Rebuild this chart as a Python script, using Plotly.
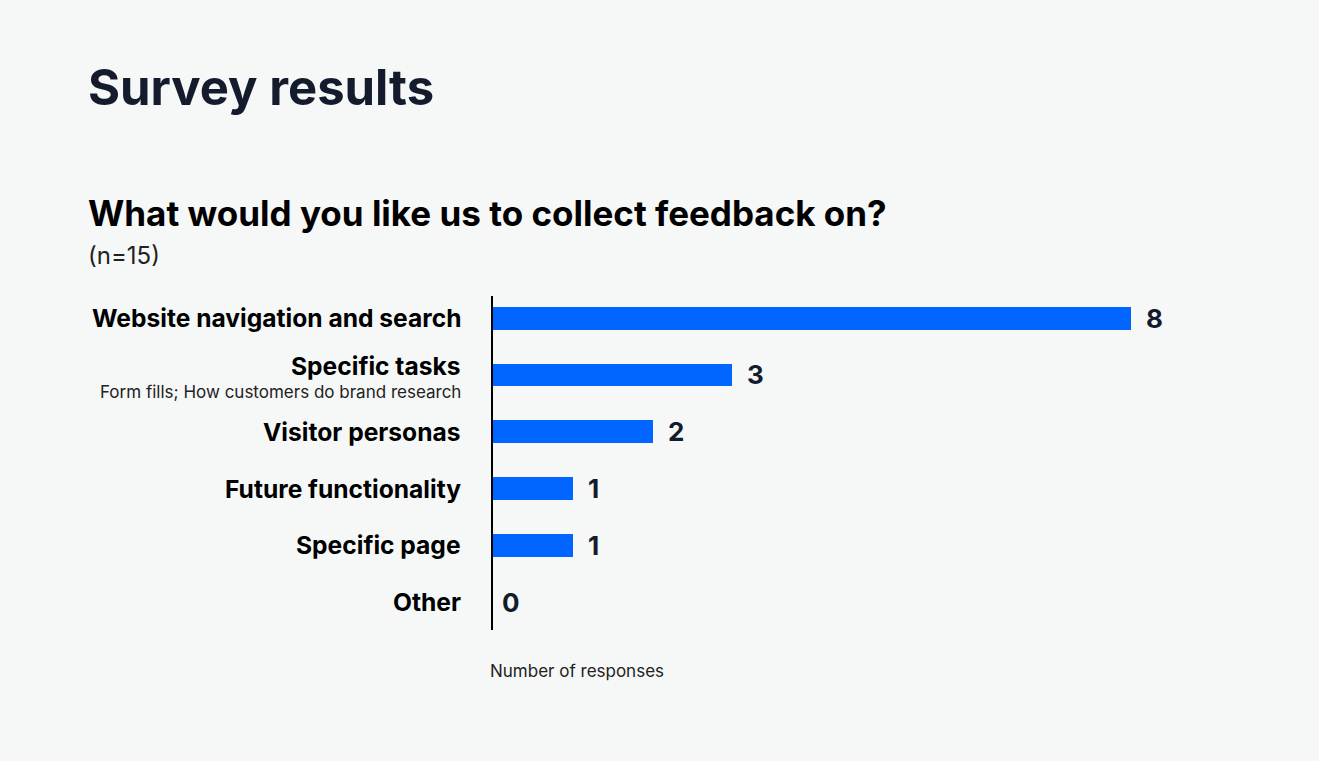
import plotly.graph_objects as go

categories = [
    "Website navigation and search",
    "Specific tasks",
    "Visitor personas",
    "Future functionality",
    "Specific page",
    "Other",
]
subtitles = ["", "Form fills; How customers do brand research", "", "", "", ""]
responses = [8, 3, 2, 1, 1, 0]

NAVY = "#141b2d"
BLUE = "#0066ff"
BG = "#f6f7f7"
FONT = "Inter"

rows = list(range(len(categories)))

fig = go.Figure()
fig.add_trace(
    go.Bar(
        x=responses,
        y=rows,
        orientation="h",
        width=0.4,
        marker=dict(color=BLUE, line=dict(width=0)),
        hoverinfo="x",
        showlegend=False,
    )
)

annotations = []
# category labels (left of the axis line)
for i, (cat, sub) in enumerate(zip(categories, subtitles)):
    annotations.append(dict(
        x=0, y=i, xref="x", yref="y", text=cat, showarrow=False,
        xanchor="right", yanchor="middle", xshift=-30, yshift=9 if sub else 0,
        font=dict(family=FONT, size=24.6, color="#000000", weight=700),
    ))
    if sub:
        annotations.append(dict(
            x=0, y=i, xref="x", yref="y", text=sub, showarrow=False,
            xanchor="right", yanchor="middle", xshift=-30, yshift=-17,
            font=dict(family=FONT, size=17, color="#222222"),
        ))

# value labels
for i, v in enumerate(responses):
    annotations.append(dict(
        x=v, y=i, xref="x", yref="y", text=str(v), showarrow=False,
        xanchor="left", yanchor="middle", xshift=13 if v else 7,
        font=dict(family=FONT, size=26, color=NAVY, weight=700),
    ))

# titles
annotations += [
    dict(x=-0.51, y=1.623, xref="paper", yref="paper", text="Survey results",
         showarrow=False, xanchor="left", yanchor="middle",
         font=dict(family=FONT, size=49, color=NAVY, weight=700)),
    dict(x=-0.51, y=1.249, xref="paper", yref="paper",
         text="What would you like us to collect feedback on?",
         showarrow=False, xanchor="left", yanchor="middle",
         font=dict(family=FONT, size=35, color="#000000", weight=700)),
    dict(x=-0.51, y=1.12, xref="paper", yref="paper", text="(n=15)",
         showarrow=False, xanchor="left", yanchor="middle",
         font=dict(family=FONT, size=24, color="#222222")),
    dict(x=-0.006, y=-0.123, xref="paper", yref="paper", text="Number of responses",
         showarrow=False, xanchor="left", yanchor="middle",
         font=dict(family=FONT, size=17, color="#222222")),
]

fig.update_layout(
    width=1319,
    height=761,
    margin=dict(l=493, r=28, t=296, b=131),
    paper_bgcolor=BG,
    plot_bgcolor=BG,
    font=dict(family=FONT),
    bargap=0,
    xaxis=dict(range=[0, 10], showgrid=False, zeroline=False, showticklabels=False,
               fixedrange=True),
    yaxis=dict(range=[5.49, -0.39], showgrid=False, zeroline=False, showticklabels=False,
               showline=True, linecolor="#000000", linewidth=1.5, fixedrange=True),
    annotations=annotations,
)

# drop the default page margin so the figure fills the window
fig.write_html("out.html", config={"displayModeBar": False},
               post_script="document.body.style.margin='0';")
